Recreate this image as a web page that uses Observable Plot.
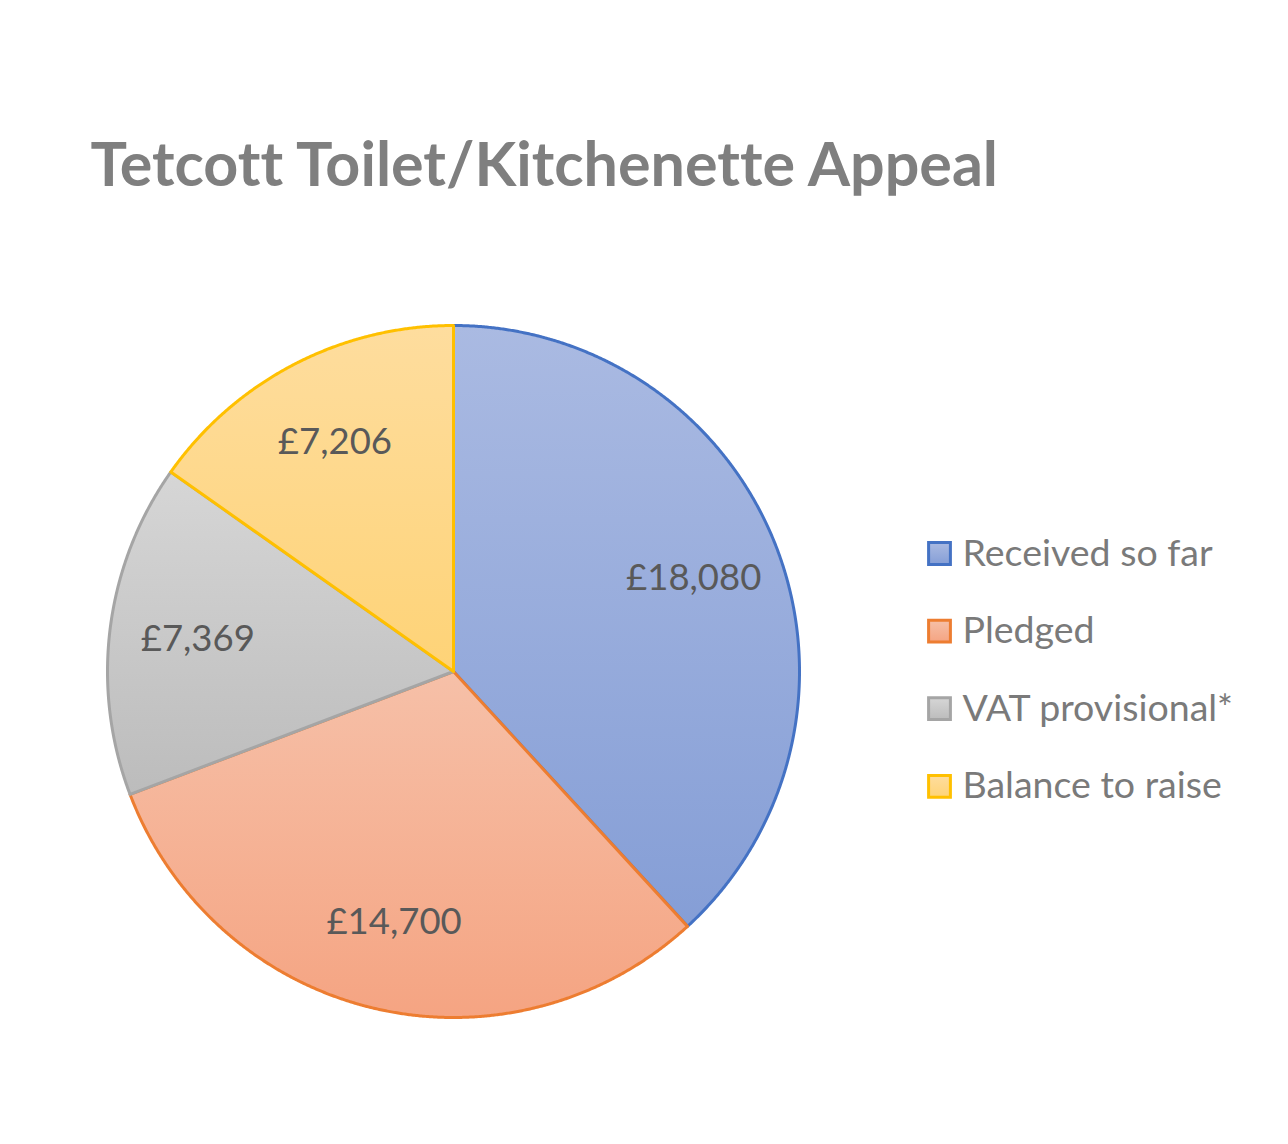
<!DOCTYPE html>
<html><head><meta charset="utf-8">
<script src="https://cdn.jsdelivr.net/npm/d3@7"></script>
<script src="https://cdn.jsdelivr.net/npm/@observablehq/plot@0.6"></script>
<style>body{margin:0;background:#fff;} svg{display:block;} text{font-variant-ligatures:none;}</style>
</head><body><div id="chart"></div>
<script>
// ---- data ----
const categories = ["Received so far", "Pledged", "VAT provisional*", "Balance to raise"];
const values = [18080, 14700, 7369, 7206];
const valueLabels = ["£18,080", "£14,700", "£7,369", "£7,206"];
const title = "Tetcott Toilet/Kitchenette Appeal";

// ---- styles ----
const strokeColors = ["#4472C4", "#ED7D31", "#A5A5A5", "#FFC000"];
const gradTop = ["#aabae2", "#f6c0a8", "#d6d6d6", "#fedd9e"];
const gradBottom = ["#859ed6", "#f5a482", "#bcbcbc", "#fed377"];

const W = 1288, H = 1144, cx = 453, cy = 671, R = 346;
const FONT = "Lato, 'Open Sans', sans-serif";

const arcs = d3.pie().sort(null).value(d => d)(values);

function sector(a0, a1) {
  const pts = [[cx, cy]];
  const n = Math.max(2, Math.ceil((a1 - a0) / 0.004));
  for (let i = 0; i <= n; i++) {
    const a = a0 + (a1 - a0) * i / n;
    pts.push([cx + R * Math.sin(a), cy - R * Math.cos(a)]);
  }
  pts.push([cx, cy]);
  return pts;
}

const sliceMarks = arcs.map((a, i) =>
  Plot.line(sector(a.startAngle, a.endAngle), {
    x: d => d[0], y: d => d[1], curve: "linear",
    fill: `url(#grad${i})`, stroke: strokeColors[i], strokeWidth: 3,
    strokeLinejoin: "round"
  })
);

const labelR = 0.745 * R;
const labelData = arcs.map((a, i) => {
  const m = (a.startAngle + a.endAngle) / 2;
  return {x: cx + labelR * Math.sin(m), y: cy - labelR * Math.cos(m), text: valueLabels[i]};
});

const legendX = 939, legendY0 = 553, legendStep = 77.6;
const legendData = categories.map((c, i) => ({name: c, i, x: legendX, y: legendY0 + i * legendStep}));

const svg = Plot.plot({
  width: W, height: H,
  margin: 0,
  x: {domain: [0, W], range: [0, W], axis: null},
  y: {domain: [0, H], range: [0, H], axis: null},
  style: {fontFamily: FONT, background: "#fff"},
  marks: [
    ...sliceMarks,
    Plot.text(labelData, {x: "x", y: "y", text: "text", fontSize: 36.5, fill: "#595959", fontFamily: FONT}),
    Plot.text([title], {x: () => 90, y: () => 166, text: d => d, textAnchor: "start", fontSize: 61, fontWeight: "bold", fill: "#7f7f7f", fontFamily: FONT}),
    ...legendData.map(d => Plot.dot([d], {x: "x", y: "y", symbol: "square", r: 12.3, fill: `url(#grad${d.i})`, stroke: strokeColors[d.i], strokeWidth: 3})),
    Plot.text(legendData, {x: d => d.x + 23, y: "y", text: "name", textAnchor: "start", fontSize: 37.5, fill: "#7a7a7a", fontFamily: FONT})
  ]
});

const defs = d3.select(svg).insert("defs", ":first-child");
gradTop.forEach((c, i) => {
  const g = defs.append("linearGradient").attr("id", `grad${i}`)
    .attr("x1", 0).attr("y1", 0).attr("x2", 0).attr("y2", 1);
  g.append("stop").attr("offset", "0%").attr("stop-color", c);
  g.append("stop").attr("offset", "100%").attr("stop-color", gradBottom[i]);
});

document.getElementById("chart").appendChild(svg);
</script>
</body></html>
